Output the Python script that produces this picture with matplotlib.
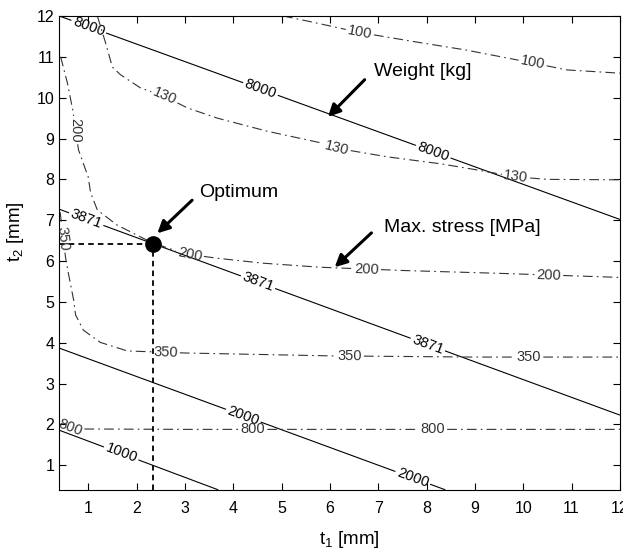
import numpy as np
import matplotlib
matplotlib.use("Agg")
import matplotlib.pyplot as plt
from matplotlib.contour import ContourSet

plt.rcParams["font.family"] = ["Liberation Sans", "DejaVu Sans"]
plt.rcParams["mathtext.fontset"] = "custom"
plt.rcParams["mathtext.rm"] = "Liberation Sans"
plt.rcParams["mathtext.default"] = "regular"
plt.rcParams["lines.scale_dashes"] = False

# weight contours [kg] (solid)
weight_levels = [1000, 2000, 3871, 8000]
w1000_x = [0.4, 3.69]
w1000_y = [1.86, 0.4]
w2000_x = [0.4, 8.39]
w2000_y = [3.87, 0.4]
w3871_x = [0.4, 12.0]
w3871_y = [7.27, 2.23]
w8000_x = [0.4, 12.0]
w8000_y = [12.0, 7.02]

# max. stress contours [MPa] (dash-dot)
stress_levels = [100, 130, 200, 350, 800]
s100_x = [5.03, 5.6, 6.6, 7.7, 8.8, 10.2, 10.9, 12.0]
s100_y = [12.0, 11.86, 11.6, 11.38, 11.17, 10.85, 10.68, 10.6]
s130_x = [1.19, 1.36, 1.5, 1.67, 2.08, 2.6, 3.05, 3.67, 4.7, 5.79, 6.2, 7.2, 8.3, 9.0, 9.86, 10.5, 12.0]
s130_y = [12.0, 11.34, 10.75, 10.56, 10.24, 10.02, 9.75, 9.5, 9.18, 8.9, 8.75, 8.55, 8.38, 8.24, 8.06, 8.0, 7.99]
s200_x = [0.43, 0.57, 0.68, 0.8, 1.0, 1.05, 1.19, 1.6, 2.22, 2.64, 3.1, 3.67, 4.6, 5.79, 7.5, 9.5, 12.0]
s200_y = [11.0, 10.36, 9.7, 8.72, 8.06, 7.67, 7.25, 6.88, 6.51, 6.32, 6.16, 6.07, 5.95, 5.85, 5.77, 5.7, 5.6]
s350_x = [0.42, 0.47, 0.53, 0.59, 0.7, 0.74, 0.9, 1.25, 1.81, 3.0, 6.0, 9.0, 12.0]
s350_y = [7.2, 6.7, 6.1, 5.7, 5.04, 4.68, 4.31, 4.01, 3.8, 3.75, 3.68, 3.65, 3.65]
s800_x = [0.42, 0.55, 0.8, 3.0, 6.0, 9.0, 12.0]
s800_y = [2.1, 1.95, 1.89, 1.88, 1.88, 1.88, 1.88]

opt_t1 = 2.35
opt_t2 = 6.42

ticks = list(range(1, 13))

weight_segs = [[np.column_stack([w1000_x, w1000_y])],
               [np.column_stack([w2000_x, w2000_y])],
               [np.column_stack([w3871_x, w3871_y])],
               [np.column_stack([w8000_x, w8000_y])]]
stress_segs = [[np.column_stack([s100_x, s100_y])],
               [np.column_stack([s130_x, s130_y])],
               [np.column_stack([s200_x, s200_y])],
               [np.column_stack([s350_x, s350_y])],
               [np.column_stack([s800_x, s800_y])]]

fig = plt.figure(figsize=(6.23, 5.51), dpi=100)
ax = fig.add_axes([0.095, 0.111, 0.90, 0.860])
ax.set_xlim(0.4, 12)
ax.set_ylim(0.4, 12)

cs_w = ContourSet(ax, weight_levels, weight_segs, colors="k", linewidths=0.8)
cs_s = ContourSet(ax, stress_levels, stress_segs, colors="#333333", linewidths=0.8)
cs_s.set_linestyle((0, (7, 3, 1.2, 3)))
ax.set_xlim(0.4, 12)
ax.set_ylim(0.4, 12)

w_lab = ax.clabel(cs_w, fmt="%d", fontsize=10.5, inline=True, inline_spacing=2,
                  manual=[(1.0, 11.7), (4.56, 10.2), (8.13, 8.65),
                          (0.95, 7.0), (4.49, 5.41), (8.0, 3.87),
                          (4.2, 2.18), (7.71, 0.68), (1.67, 1.25)])
s_lab = ax.clabel(cs_s, fmt="%d", fontsize=10.5, inline=True, inline_spacing=2,
                  manual=[(6.62, 11.6), (10.19, 10.82),
                          (2.56, 9.95), (6.13, 8.72), (9.85, 8.06),
                          (0.7, 9.2), (3.1, 6.15), (6.76, 5.8), (10.53, 5.62),
                          (0.46, 6.55), (2.6, 3.72), (6.41, 3.66), (10.12, 3.65),
                          (0.62, 1.88), (4.41, 1.88), (8.13, 1.88)])
for t in list(w_lab) + list(s_lab):
    t.set_clip_on(True)
    t.set_clip_path(ax.patch)
    x0, y0 = t.get_position()
    if t.get_text() == "200" and x0 < 1.0 and y0 > 8.5:
        t.set_rotation(270)

# optimum and guide lines
ax.plot([0.4, opt_t1], [opt_t2, opt_t2], color="k", lw=1.3, ls=(0, (4, 3)))
ax.plot([opt_t1, opt_t1], [0.4, opt_t2], color="k", lw=1.3, ls=(0, (4, 3)))
ax.plot([opt_t1], [opt_t2], "o", color="k", ms=11)

arrow = dict(arrowstyle="-|>", lw=2.2, color="k", mutation_scale=18, shrinkA=0, shrinkB=0)
ax.annotate("", xy=(2.43, 6.68), xytext=(3.15, 7.49), arrowprops=arrow)
ax.annotate("", xy=(5.96, 9.53), xytext=(6.72, 10.44), arrowprops=arrow)
ax.annotate("", xy=(6.1, 5.85), xytext=(6.86, 6.69), arrowprops=arrow)
ax.text(4.12, 7.69, "Optimum", fontsize=14, ha="center", va="center")
ax.text(7.92, 10.63, "Weight [kg]", fontsize=14, ha="center", va="center")
ax.text(8.75, 6.83, "Max. stress [MPa]", fontsize=14, ha="center", va="center")

ax.set_xticks(ticks)
ax.set_yticks(ticks)
ax.tick_params(direction="in", top=True, right=True, length=5, labelsize=11.5)
ax.tick_params(axis="x", pad=8)
ax.set_xlabel("t$_1$ [mm]", fontsize=13.5)
ax.set_ylabel("t$_2$ [mm]", fontsize=13.5)
ax.xaxis.set_label_coords(0.517, -0.082)
ax.yaxis.set_label_coords(-0.06, 0.545)

fig.savefig("out.png", dpi=100)
